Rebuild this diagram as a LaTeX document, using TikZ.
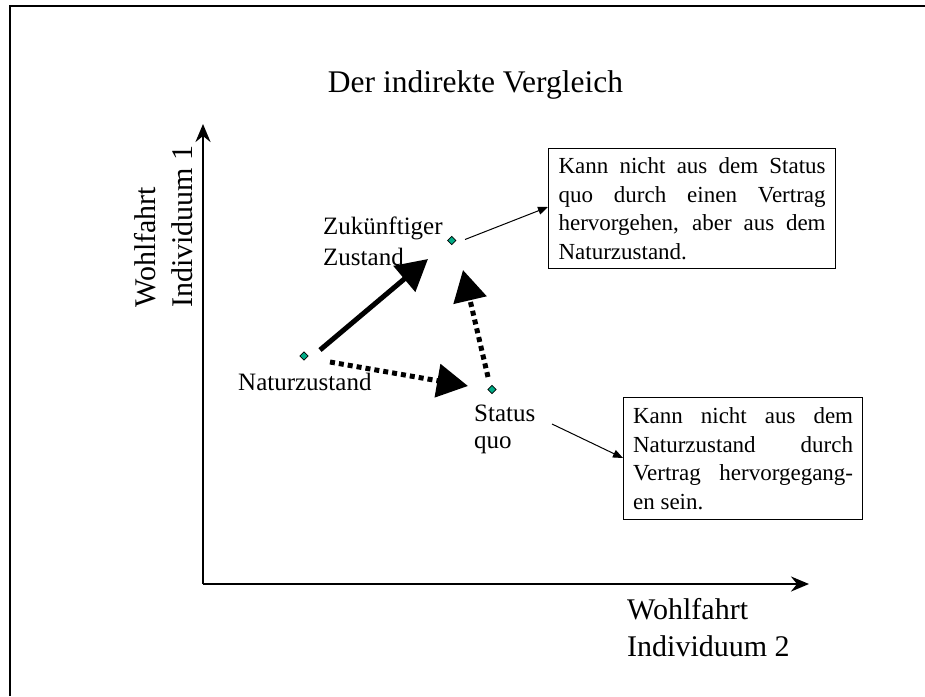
\documentclass[tikz,border=0pt]{standalone}
\usepackage{fontspec}
\setmainfont{Liberation Serif}
\usetikzlibrary{arrows.meta,shapes.geometric}
\definecolor{ptgreen}{RGB}{0,172,135}
\tikzset{
  ptmark/.style={diamond, draw=black, fill=ptgreen, line width=0.6pt, minimum size=8.5pt, inner sep=0pt},
  bigarrow/.style={line width=5pt, -{Triangle[length=31pt,width=33pt]}},
  dotarrow/.style={bigarrow, dash pattern=on 5pt off 4pt},
  thinarrow/.style={line width=1pt, -{Triangle[length=10pt,width=8pt]}},
  axisline/.style={line width=2.7pt, -{Stealth[length=18pt,width=15pt,inset=6pt]}},
  lbl/.style={font=\fontsize{25}{30}\selectfont, inner sep=0pt, anchor=base west},
  axlbl/.style={font=\fontsize{30}{36}\selectfont, inner sep=0pt, anchor=base west},
  notebox/.style={draw, line width=1.2pt, font=\fontsize{23}{28.5}\selectfont, align=left,
    inner xsep=10pt, inner ysep=0pt, anchor=north west},
}
\begin{document}
\begin{tikzpicture}[x=1pt,y=-1pt]
\useasboundingbox (0,0) rectangle (925,696);
% frame
\draw[line width=2pt] (10,696) -- (10,6) -- (925,6);
% title
\node[font=\fontsize{31.5}{37}\selectfont, inner sep=0pt, anchor=base] (title) at (475.5,92) {Der indirekte Vergleich};
% axes
\coordinate (O) at (203,584);
\coordinate (ytip) at (203,124);
\coordinate (xtip) at (809,584);
\draw[axisline] (O) -- (ytip);
\draw[axisline] (O) -- (xtip);
% axis labels
\node[axlbl, rotate=90] (ylab1) at (155,308) {Wohlfahrt};
\node[axlbl, rotate=90] (ylab2) at (192,308) {Individuum 1};
\node[axlbl] (xlab1) at (627,619) {Wohlfahrt};
\node[axlbl] (xlab2) at (627,656) {Individuum 2};
% points
\node[ptmark] (pN) at (304,356) {};
\node[ptmark] (pZ) at (451.7,240.5) {};
\node[ptmark] (pS) at (492,389.5) {};
% point labels
\node[lbl] (lZ1) at (323,234) {Zukünftiger};
\node[lbl] (lZ2) at (323,265) {Zustand};
\node[lbl] (lN) at (238,390) {Naturzustand};
\node[lbl] (lS1) at (474,421) {Status};
\node[lbl] (lS2) at (474,448) {quo};
% big arrows
\coordinate (a1s) at (320,350);
\coordinate (a1e) at (428,259);
\coordinate (a2s) at (330,362);
\coordinate (a2e) at (468,386);
\coordinate (a3s) at (488,377);
\coordinate (a3e) at (463,270);
\draw[bigarrow] (a1s) -- (a1e);
\draw[dotarrow] (a2s) -- (a2e);
\draw[dotarrow] (a3s) -- (a3e);
% note boxes
\node[notebox, minimum width=287pt, minimum height=120pt] (box1) at (548,148) {%
\makebox[267pt][s]{Kann nicht aus dem Status}\\
\makebox[267pt][s]{quo durch einen Vertrag}\\
\makebox[267pt][s]{hervorgehen, aber aus dem}\\
Naturzustand.};
\node[notebox, minimum width=239pt, minimum height=122pt, inner xsep=9.5pt] (box2) at (623,397) {%
\makebox[220pt][s]{Kann nicht aus dem}\\
\makebox[220pt][s]{Naturzustand durch}\\
\makebox[220pt][s]{Vertrag hervorgegang-}\\
en sein.};
% thin connectors
\coordinate (c1s) at (465,239.5);
\coordinate (c2s) at (552,424);
\draw[thinarrow] (c1s) -- (box1.west |- 0,207);
\draw[thinarrow] (c2s) -- (box2.west |- 0,458);
\end{tikzpicture}
\end{document}
